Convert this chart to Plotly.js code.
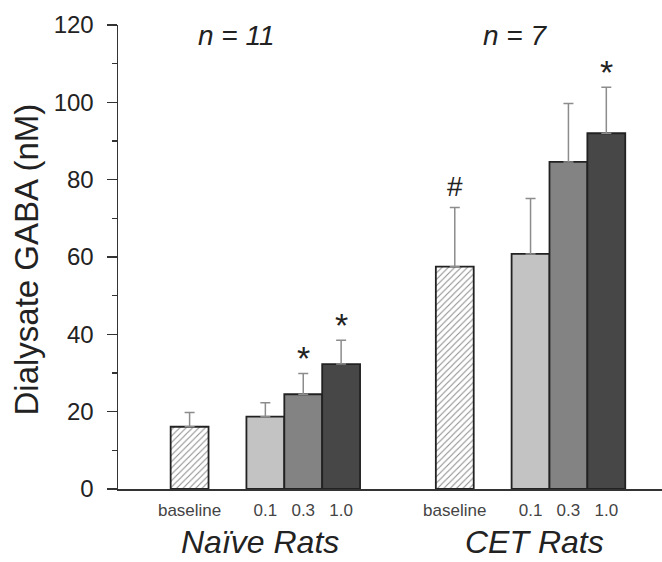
<!DOCTYPE html>
<html>
<head>
<meta charset="utf-8">
<script src="https://cdn.plot.ly/plotly-3.0.1.min.js"></script>
<style>
  html, body { margin: 0; padding: 0; background: #fff; }
  #chart { width: 662px; height: 562px; }
</style>
</head>
<body>
<div id="chart"></div>
<script>
// ---- data ----
const groups = ['Naïve Rats', 'CET Rats'];
const groupN = ['n = 11', 'n = 7'];
const doses = ['baseline', '0.1', '0.3', '1.0'];
const naiveMean = [16.1, 18.7, 24.5, 32.3];
const naiveSEM  = [3.7, 3.6, 5.4, 6.2];
const cetMean   = [57.5, 60.8, 84.6, 92.0];
const cetSEM    = [15.3, 14.3, 15.1, 11.9];
// significance marks: [group index, dose index, symbol]
const marks = [[0, 2, '*'], [0, 3, '*'], [1, 0, '#'], [1, 3, '*']];

// ---- layout helpers (positions / styles) ----
const groupStart = [0, 7];
const doseOffset = [0, 2, 3, 4];
const means = [naiveMean, cetMean];
const sems = [naiveSEM, cetSEM];
const fills = ['#ffffff', '#c3c3c3', '#838383', '#474747'];
const FONT = 'Liberation Sans, Arial, sans-serif';

const traces = doses.map((d, i) => ({
  type: 'bar',
  x: groupStart.map(g => g + doseOffset[i]),
  y: means.map(m => m[i]),
  width: 1,
  marker: {
    color: fills[i],
    line: { color: '#222', width: 1.8 },
    pattern: i === 0 ? { shape: '/', fgcolor: '#8a8a8a', bgcolor: '#ffffff', size: 4.5, solidity: 0.22 } : undefined
  },
  error_y: {
    type: 'data', symmetric: false,
    array: sems.map(s => s[i]),
    arrayminus: sems.map(() => 0),
    color: '#8c8c8c', thickness: 1.5, width: 5
  },
  showlegend: false,
  hoverinfo: 'skip'
}));

const tickvals = [], ticktext = [];
groupStart.forEach(g => doses.forEach((d, i) => { tickvals.push(g + doseOffset[i]); ticktext.push(d); }));

const annotations = [];
marks.forEach(([g, i, s]) => {
  annotations.push({
    x: groupStart[g] + doseOffset[i], y: means[g][i] + sems[g][i],
    xref: 'x', yref: 'y', text: s, showarrow: false,
    yanchor: 'bottom', yshift: s === '*' ? -6 : 4,
    font: { family: FONT, size: s === '*' ? 34 : 28, color: '#222' }
  });
});
groups.forEach((name, g) => {
  annotations.push({
    x: g === 0 ? 1.85 : 9.1, y: 0, xref: 'x', yref: 'y', yanchor: 'middle',
    yshift: -53, text: '<i>' + name + '</i>', showarrow: false,
    font: { family: FONT, size: 32, color: '#222' }
  });
  annotations.push({
    x: g === 0 ? 1.25 : 8.6, y: 120, xref: 'x', yref: 'y', yanchor: 'middle',
    yshift: -10, text: '<i>' + groupN[g] + '</i>', showarrow: false,
    font: { family: FONT, size: 28, color: '#222' }
  });
});
annotations.push({
  x: -0.17, y: 0.4935, xref: 'paper', yref: 'paper', textangle: -90,
  text: 'Dialysate GABA (nM)', showarrow: false, xanchor: 'center', yanchor: 'middle',
  font: { family: FONT, size: 33, color: '#222' }
});

const layout = {
  width: 662, height: 562,
  margin: { l: 118, r: 0, t: 25, b: 73 },
  paper_bgcolor: '#fff', plot_bgcolor: '#fff',
  bargap: 0,
  xaxis: {
    range: [-1.89, 12.47],
    tickvals: tickvals, ticktext: ticktext,
    ticks: '', showgrid: false, zeroline: false,
    showline: true, linecolor: '#333', linewidth: 1.5,
    tickfont: { family: FONT, size: 17, color: '#444' },
    ticklabelstandoff: 5
  },
  yaxis: {
    range: [0, 120], dtick: 20, tick0: 0,
    ticks: 'outside', ticklen: 10, tickwidth: 1.5, tickcolor: '#333',
    minor: { dtick: 10, ticks: 'outside', ticklen: 5, tickwidth: 1.2, tickcolor: '#333', showgrid: false },
    showgrid: false, zeroline: false,
    showline: true, linecolor: '#333', linewidth: 1.5,
    tickfont: { family: FONT, size: 24, color: '#222' },
    ticklabelstandoff: 8
  },
  annotations: annotations,
  font: { family: FONT }
};

Plotly.newPlot('chart', traces, layout, { staticPlot: true, displayModeBar: false });
</script>
</body>
</html>
